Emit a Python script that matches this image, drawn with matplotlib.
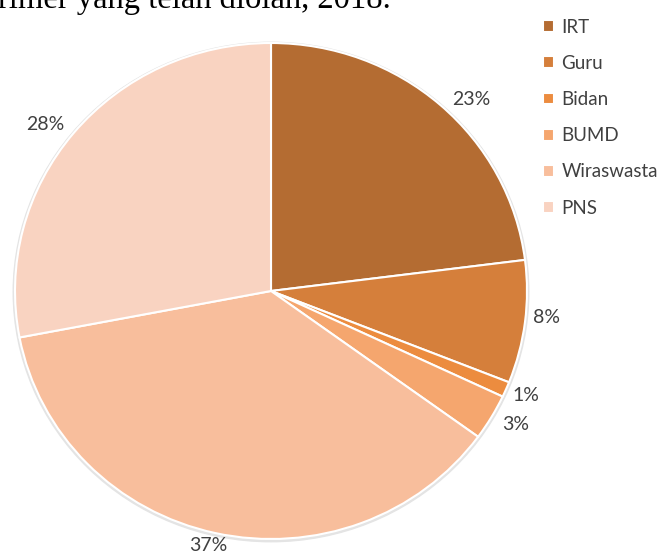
import numpy as np
import matplotlib
matplotlib.use("Agg")
import matplotlib.pyplot as plt
from matplotlib.patches import Ellipse

W, H = 661, 554

categories = ["IRT", "Guru", "Bidan", "BUMD", "Wiraswasta", "PNS"]
shares = [23, 8, 1, 3, 37, 28]
colors = ["#B46C32", "#D57F3B", "#EC8C3F", "#F5A66E", "#F8BE9C", "#F9D3C1"]

# outside-end label placement: radius and small angle nudge per slice
label_r = [1.10, 1.083, 1.082, 1.097, 1.057, 1.108]
label_nudge = [-4.0, 1.6, 0.4, 1.3, -0.9, 2.4]

plt.rcParams["font.family"] = ["Lato", "DejaVu Sans"]

fig = plt.figure(figsize=(W / 100, H / 100), dpi=100)

# axes cover whole figure; data units chosen so the unit circle lands at
# centre (271, 291) px with a slightly wider than tall outline
cx, cy, rx, ry = 271, 291, 256, 248
ax = fig.add_axes([0, 0, 1, 1])

# soft grey rim behind the pie
ax.add_patch(Ellipse((0, -0.004), 2.014, 2.014, color="#e4e4e4", zorder=0))

wedges, _ = ax.pie(
    shares,
    colors=colors,
    startangle=90,
    counterclock=False,
    wedgeprops=dict(edgecolor="white", linewidth=1.5),
)

for w, v, r, d in zip(wedges, shares, label_r, label_nudge):
    a = np.deg2rad((w.theta1 + w.theta2) / 2 + d)
    ax.text(r * np.cos(a), r * np.sin(a), f"{v}%", fontsize=14,
            color="#404040", ha="center", va="center")

ax.set_aspect("auto")
ax.set_xlim(-cx / rx, (W - cx) / rx)
ax.set_ylim(-(H - cy) / ry, cy / ry)
ax.axis("off")

fig.legend(
    wedges, categories,
    loc="upper left",
    bbox_to_anchor=(526 / W, 1 - 2 / H),
    frameon=False,
    fontsize=13.5,
    handlelength=0.6,
    handleheight=0.6,
    handletextpad=0.4,
    labelspacing=1.02,
    labelcolor="#404040",
)

fig.text(-2 / W, 1 - 8 / H, "rimer yang telah diolah, 2018.",
         family="Liberation Serif", fontsize=23.5, color="black",
         ha="left", va="baseline")

fig.savefig("out.png", dpi=100)
